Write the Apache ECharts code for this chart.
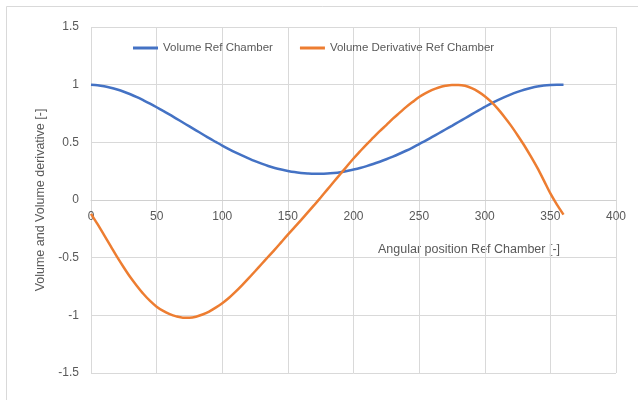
<!DOCTYPE html>
<html>
<head>
<meta charset="utf-8">
<script src="https://cdn.jsdelivr.net/npm/echarts@6/dist/echarts.min.js"></script>
<style>
html,body{margin:0;padding:0;background:#fff;}
#chart{width:638px;height:400px;}
</style>
</head>
<body>
<div id="chart"></div>
<script>
var angles = [0,5,10,15,20,25,30,35,40,45,50,55,60,65,70,75,80,85,90,95,100,105,110,115,120,125,130,135,140,145,150,155,160,165,170,175,180,185,190,195,200,205,210,215,220,225,230,235,240,245,250,255,260,265,270,275,280,285,290,295,300,305,310,315,320,325,330,335,340,345,350,355,360];
var volumeRef = [1.0,0.995,0.986,0.974,0.958,0.939,0.917,0.892,0.864,0.835,0.804,0.772,0.740,0.706,0.672,0.638,0.604,0.570,0.536,0.504,0.472,0.442,0.413,0.386,0.361,0.337,0.315,0.295,0.278,0.264,0.252,0.242,0.235,0.230,0.227,0.227,0.229,0.234,0.241,0.251,0.264,0.278,0.294,0.312,0.332,0.353,0.376,0.401,0.427,0.455,0.485,0.515,0.547,0.579,0.611,0.643,0.676,0.709,0.742,0.775,0.807,0.838,0.866,0.892,0.916,0.937,0.956,0.971,0.984,0.993,0.998,1.0,1.0];
var volumeDerivRef = [-0.12,-0.21,-0.305,-0.40,-0.495,-0.585,-0.67,-0.745,-0.815,-0.875,-0.925,-0.962,-0.99,-1.009,-1.02,-1.02,-1.012,-0.993,-0.967,-0.933,-0.895,-0.85,-0.797,-0.74,-0.68,-0.618,-0.555,-0.492,-0.43,-0.365,-0.30,-0.238,-0.175,-0.11,-0.045,0.022,0.09,0.158,0.225,0.293,0.36,0.422,0.483,0.54,0.597,0.65,0.705,0.755,0.805,0.85,0.893,0.927,0.955,0.976,0.99,0.998,0.998,0.99,0.97,0.94,0.90,0.85,0.79,0.72,0.645,0.562,0.475,0.38,0.28,0.17,0.057,-0.04,-0.127];
var seriesNames = ['Volume Ref Chamber','Volume Derivative Ref Chamber'];
var xTitle = 'Angular position Ref Chamber [-]';
var yTitle = 'Volume and Volume derivative [-]';

function pairs(xs, ys){ return xs.map(function(x,i){ return [x, ys[i]]; }); }

var chart = echarts.init(document.getElementById('chart'), null, {renderer:'canvas'});
var font = 'Liberation Sans';
chart.setOption({
  animation: false,
  backgroundColor: '#ffffff',
  textStyle: { fontFamily: font },
  grid: { left: 91, right: 22, top: 27, bottom: 27, containLabel: false },
  legend: {
    top: 42, left: 133, padding: 0,
    itemWidth: 25, itemHeight: 3, itemGap: 27,
    icon: 'rect',
    textStyle: { color: '#595959', fontSize: 11.5, fontFamily: font },
    data: seriesNames
  },
  xAxis: {
    type: 'value', min: 0, max: 400, interval: 50,
    offset: -173,
    axisLine: { show: true, onZero: false, lineStyle: { color: '#D0D0D0', width: 1 } },
    axisTick: { show: false },
    axisLabel: { color: '#595959', fontSize: 12, margin: 11, fontFamily: font },
    splitLine: { show: true, lineStyle: { color: '#D9D9D9', width: 1 } }
  },
  yAxis: {
    type: 'value', min: -1.5, max: 1.5, interval: 0.5,
    name: yTitle, nameLocation: 'middle', nameGap: 36,
    nameTextStyle: { color: '#595959', fontSize: 12.5, fontFamily: font },
    axisLine: { show: false },
    axisTick: { show: false },
    axisLabel: { color: '#595959', fontSize: 12, margin: 12, fontFamily: font },
    splitLine: { show: true, lineStyle: { color: '#D9D9D9', width: 1 } }
  },
  graphic: [
    { type: 'rect', silent: true, z: -10, shape: { x: 6.5, y: 6.5, width: 700, height: 500 }, style: { fill: 'none', stroke: '#D9D9D9', lineWidth: 1 } },
    { type: 'text', left: 378, top: 243, style: { text: xTitle, fill: '#595959', font: '12.5px "Liberation Sans"' } }
  ],
  series: [
    { name: seriesNames[0], type: 'line', data: pairs(angles, volumeRef), showSymbol: false, smooth: 0.3,
      itemStyle: { color: '#4472C4' }, lineStyle: { color: '#4472C4', width: 2.5 } },
    { name: seriesNames[1], type: 'line', data: pairs(angles, volumeDerivRef), showSymbol: false, smooth: 0.3,
      itemStyle: { color: '#ED7D31' }, lineStyle: { color: '#ED7D31', width: 2.5 } }
  ]
});
</script>
</body>
</html>
